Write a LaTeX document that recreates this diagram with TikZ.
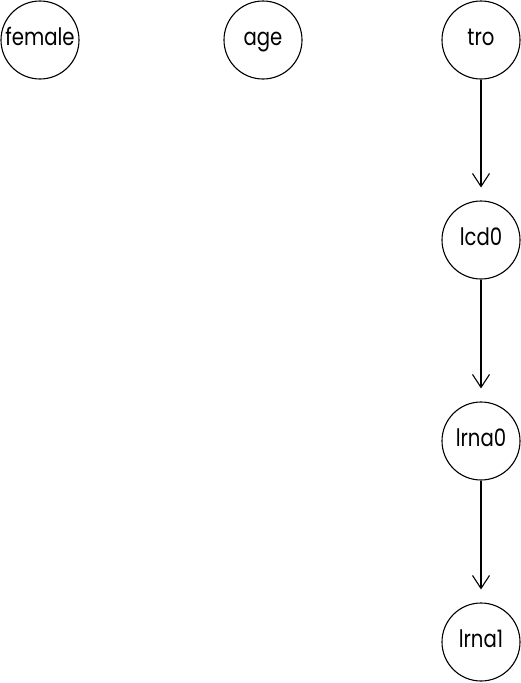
\documentclass[tikz,border=0pt]{standalone}
\usepackage{fontspec}
\setmainfont{Poppins}[FakeStretch=0.82]
\usetikzlibrary{arrows.meta}
\begin{document}
\begin{tikzpicture}[x=1pt,y=-1pt,
  var/.style={draw, circle, line width=1.1pt, minimum size=78pt, inner sep=0pt, text height=14pt, text depth=4pt, font=\fontsize{24}{26}\selectfont},
  edge/.style={line width=1.1pt, -{Straight Barb[length=13pt,width=17pt,line width=1.1pt]}, shorten >=13pt}]
\useasboundingbox (0,0) rectangle (520,683);
\node[var] (female) at (40,40) {female};
\node[var] (age) at (263,40) {age};
\node[var] (tro) at (481,40) {tro};
\node[var] (lcd0) at (481,240) {lcd0};
\node[var] (lrna0) at (481,441) {lrna0};
\node[var] (lrna1) at (481,642) {lrna1};
\draw[edge] (tro) -- (lcd0);
\draw[edge] (lcd0) -- (lrna0);
\draw[edge] (lrna0) -- (lrna1);
\end{tikzpicture}
\end{document}
